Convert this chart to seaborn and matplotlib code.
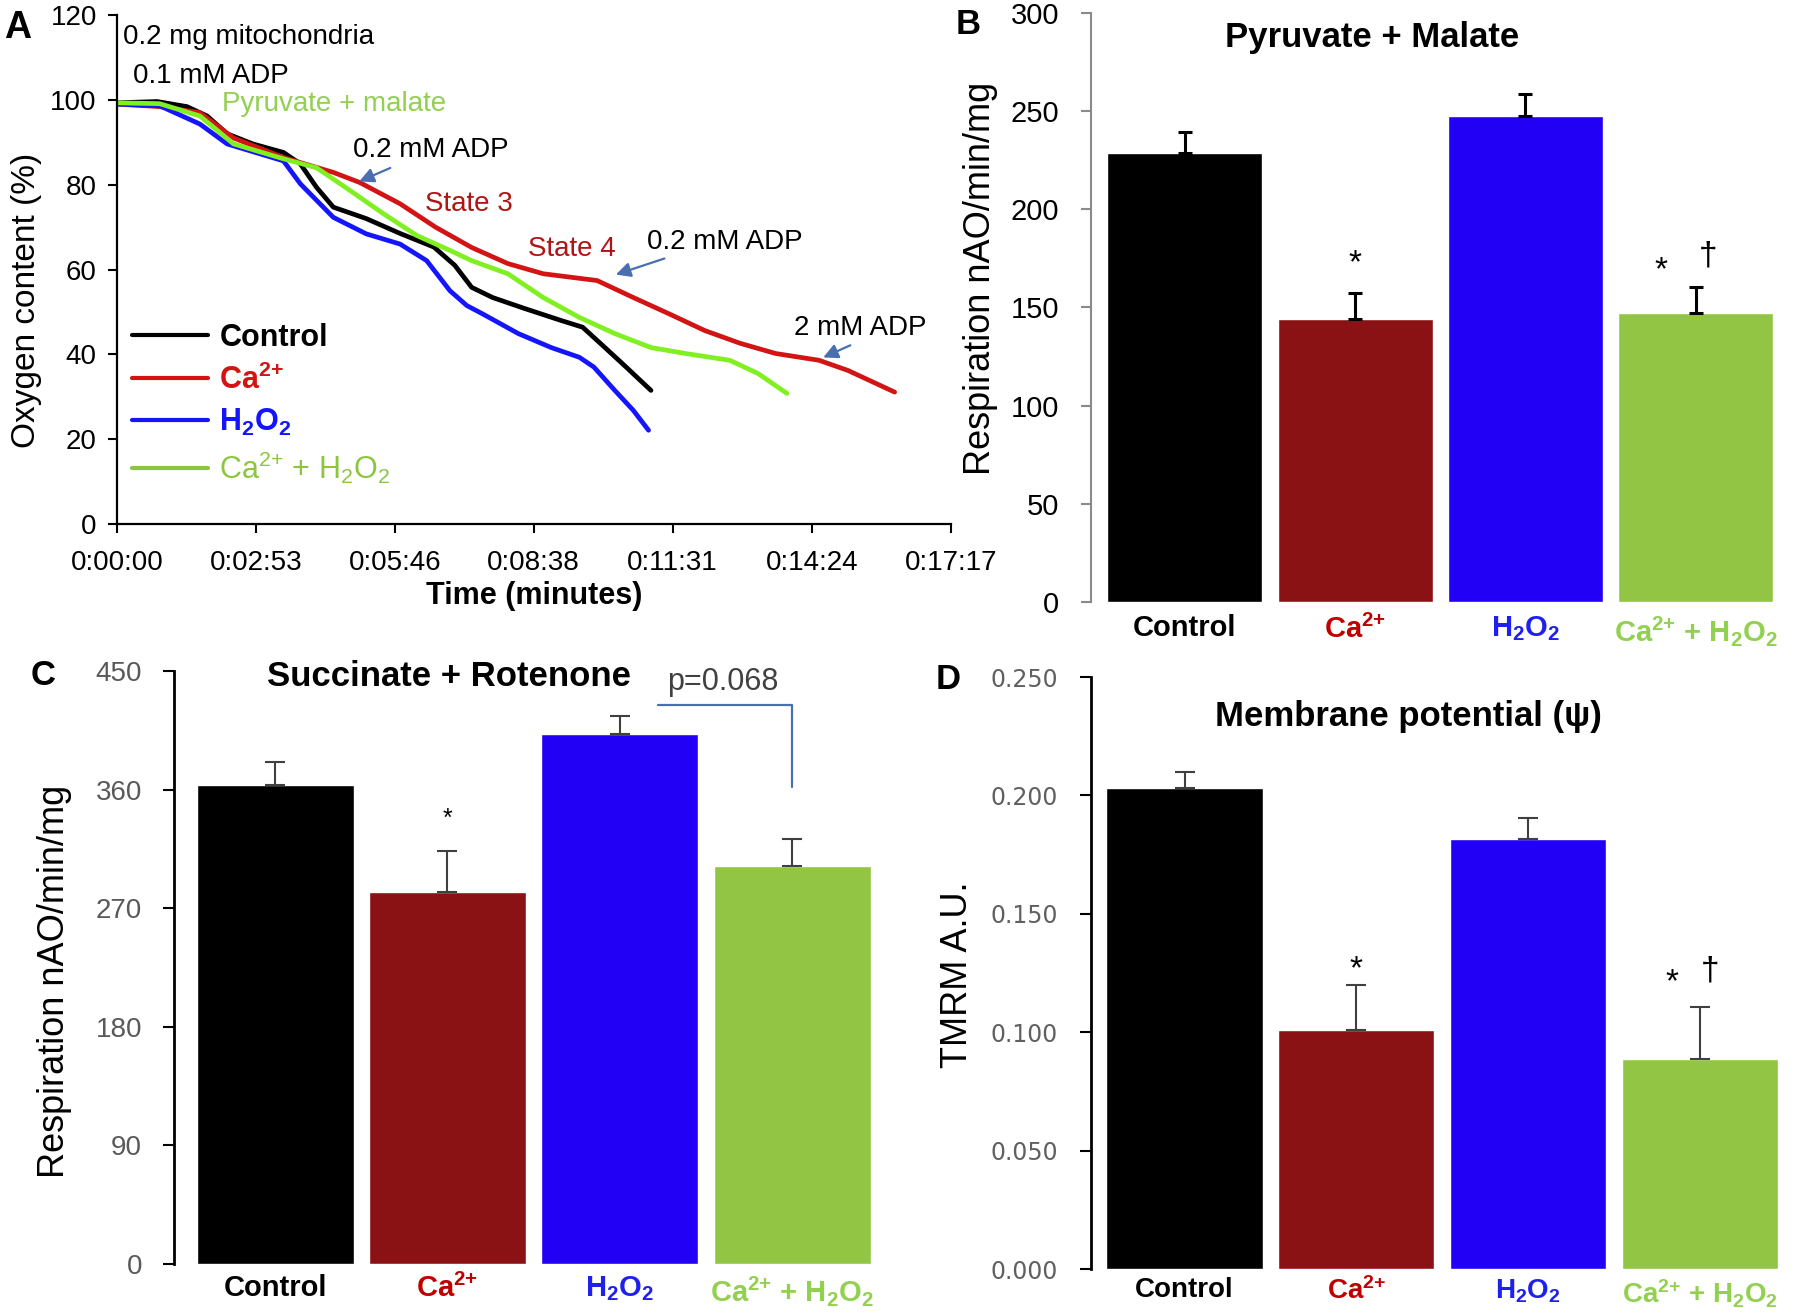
import numpy as np
import pandas as pd
import seaborn as sns
import matplotlib.pyplot as plt
from matplotlib.lines import Line2D

# ---- panel A: oxygen traces (time in seconds, oxygen content in %) ----
ctrl_t = [0, 50, 87, 112, 137, 169, 207, 228, 248, 269, 310, 352, 394, 420, 441, 467, 507, 552, 579, 601, 628, 664]
ctrl_o2 = [99.3, 99.6, 98.4, 96.2, 92, 89.6, 87.6, 84.9, 79.4, 74.7, 72, 68.5, 65.3, 61, 55.8, 53.4, 50.8, 48, 46.4, 42.6, 37.9, 31.5]
ca_t = [0, 53, 103, 145, 207, 269, 302, 352, 396, 441, 486, 530, 597, 642, 686, 731, 775, 819, 873, 909, 967]
ca_o2 = [99, 98.4, 97, 91, 86.4, 82.9, 80.5, 75.5, 70, 65.2, 61.4, 59, 57.4, 53.4, 49.6, 45.6, 42.6, 40.2, 38.6, 36.2, 31.1]
h2o2_t = [0, 53, 103, 137, 207, 228, 269, 310, 352, 385, 414, 435, 454, 499, 540, 575, 593, 619, 642, 661]
h2o2_o2 = [99, 98.6, 94.3, 89.6, 85.6, 80.2, 72.3, 68.4, 66, 62.1, 55, 51.5, 49.6, 44.9, 41.6, 39.3, 37, 31.5, 26.8, 22.1]
cah_t = [0, 53, 103, 145, 207, 248, 290, 331, 373, 414, 441, 486, 530, 575, 619, 664, 707, 762, 797, 833]
cah_o2 = [99.3, 99.1, 96.2, 89.6, 86.1, 84, 78.6, 73.2, 68, 64.5, 62.1, 59, 53.4, 48.7, 44.9, 41.6, 40.2, 38.6, 35.5, 30.8]

time_ticks = [0, 173, 346, 518, 691, 864, 1037]
time_labels = ["0:00:00", "0:02:53", "0:05:46", "0:08:38", "0:11:31", "0:14:24", "0:17:17"]
oxy_ticks = [0, 20, 40, 60, 80, 100, 120]

groups = ["Control", "Ca", "H2O2", "CaH2O2"]
group_labels = ["Control", "Ca$^{2{+}}$", "H$_2$O$_2$", "Ca$^{2{+}}$ + H$_2$O$_2$"]

# ---- panels B-D: bar values (mean, upper error) ----
pm_mean = [228.7, 144.0, 247.3, 147.0]
pm_err = [10.5, 13.5, 11.6, 13.5]
sr_mean = [363.7, 282.0, 402.3, 302.3]
sr_err = [17.3, 31.4, 13.7, 19.9]
tmrm_mean = [0.2030, 0.1011, 0.1816, 0.0887]
tmrm_err = [0.0071, 0.0187, 0.0088, 0.0221]

pm_ticks = [0, 50, 100, 150, 200, 250, 300]
sr_ticks = [0, 90, 180, 270, 360, 450]
tmrm_ticks = [0, 0.05, 0.10, 0.15, 0.20, 0.25]

line_colors = ["#000000", "#d21414", "#1414ff", "#80f020"]
legend_colors = ["#000000", "#d21414", "#1414ff", "#8cc63f"]
bar_colors = ["#000000", "#8b1214", "#2200f5", "#92c544"]
label_colors = ["#000000", "#c00000", "#1f1fee", "#92d050"]
green_txt = "#92d050"
state_red = "#b01515"
arrow_blue = "#4a6fb0"

sns.set_style("ticks", rc={"axes.edgecolor": "black", "xtick.color": "black",
                           "ytick.color": "black", "text.color": "black",
                           "axes.labelcolor": "black"})
plt.rcParams["font.family"] = ["Liberation Sans", "DejaVu Sans"]
plt.rcParams["mathtext.default"] = "regular"

fig = plt.figure(figsize=(18, 13.16), dpi=100)
axA = fig.add_axes([0.0650, 0.6018, 0.4633, 0.3868])
axB = fig.add_axes([0.6061, 0.5426, 0.3889, 0.4476])
axC = fig.add_axes([0.0967, 0.0395, 0.3961, 0.4506])
axD = fig.add_axes([0.6061, 0.0357, 0.3917, 0.4498])

# ---------- A ----------
traces = pd.concat([
    pd.DataFrame({"t": t, "o2": v, "group": g})
    for g, t, v in zip(groups, [ctrl_t, ca_t, h2o2_t, cah_t], [ctrl_o2, ca_o2, h2o2_o2, cah_o2])
])
sns.lineplot(data=traces, x="t", y="o2", hue="group", hue_order=groups,
             palette=dict(zip(groups, line_colors)), linewidth=3.4,
             estimator=None, sort=False, legend=False, ax=axA)
axA.set_xlim(0, 1037)
axA.set_ylim(0, 120)
axA.set_xticks(time_ticks)
axA.set_xticklabels(time_labels)
axA.set_yticks(oxy_ticks)
axA.tick_params(axis="both", labelsize=20, length=6.5, width=1.5)
axA.tick_params(axis="x", pad=12)
axA.tick_params(axis="y", pad=8)
for s in ["top", "right"]:
    axA.spines[s].set_visible(False)
for s in ["left", "bottom"]:
    axA.spines[s].set_linewidth(1.6)
axA.set_xlabel("Time (minutes)", fontsize=22, fontweight="bold", labelpad=4)
axA.set_ylabel("Oxygen content (%)", fontsize=24)
axA.yaxis.set_label_coords(-0.09, 0.44)

handles = [Line2D([], [], color=c, lw=3) for c in legend_colors]
leg = axA.legend(handles, group_labels, loc="center left", bbox_to_anchor=(0.018, 0.235),
                 frameon=False, fontsize=22, handlelength=2.5, handletextpad=0.36,
                 labelspacing=0.38, borderpad=0, borderaxespad=0)
for txt, c, w in zip(leg.get_texts(), legend_colors, ["bold", "bold", "bold", "normal"]):
    txt.set_color(c)
    txt.set_fontweight(w)

notes = [("0.2 mg mitochondria", 7.5, 113.2, "black"),
         ("0.1 mM ADP", 20, 104, "black"),
         ("Pyruvate + malate", 130, 97.4, green_txt),
         ("0.2 mM ADP", 293, 86.6, "black"),
         ("State 3", 383, 73.9, state_red),
         ("State 4", 511, 63.3, state_red),
         ("0.2 mM ADP", 659, 64.9, "black"),
         ("2 mM ADP", 842, 44.5, "black")]
for txt, x, y, c in notes:
    axA.text(x, y, txt, fontsize=20, color=c, ha="left", va="baseline")
for (x0, y0), (x1, y1) in [((343, 84.2), (298, 80.5)), ((684, 62.8), (617, 58.6)), ((915, 42.4), (875, 39))]:
    axA.annotate("", xy=(x1, y1), xytext=(x0, y0),
                 arrowprops=dict(arrowstyle="-|>", color=arrow_blue, lw=1.6, mutation_scale=22))


# ---------- bar panels ----------
def bar_panel(ax, means, errs, ticks, ecolor, elw, cap, xlim):
    df = pd.DataFrame({"group": groups, "value": means})
    sns.barplot(data=df, x="group", y="value", hue="group", hue_order=groups,
                palette=dict(zip(groups, bar_colors)), width=0.91, saturation=1,
                errorbar=None, legend=False, ax=ax)
    ax.errorbar(np.arange(len(means)), means, yerr=[np.zeros(len(means)), errs],
                fmt="none", ecolor=ecolor, elinewidth=elw, capsize=cap, capthick=elw, zorder=5)
    ax.set_xlim(*xlim)
    ax.set_ylim(ticks[0], ticks[-1])
    ax.set_yticks(ticks)
    ax.set_xticks(range(len(groups)))
    ax.set_xticklabels(group_labels, fontsize=21, fontweight="bold")
    for lbl, c in zip(ax.get_xticklabels(), label_colors):
        lbl.set_color(c)
    ax.set_xlabel("")
    for s in ["top", "right", "bottom"]:
        ax.spines[s].set_visible(False)
    ax.tick_params(axis="x", length=0)


# B
bar_panel(axB, pm_mean, pm_err, pm_ticks, "black", 2.2, 5, (-0.552, 3.56))
axB.spines["left"].set_color("#8a8a8a")
axB.spines["left"].set_linewidth(1.5)
axB.tick_params(axis="y", color="#8a8a8a", length=7, width=1.5, pad=16)
axB.tick_params(axis="x", pad=9)
for lbl in axB.get_yticklabels():
    lbl.set_fontsize(21)
axB.set_ylabel("Respiration nAO/min/mg", fontsize=26)
axB.yaxis.set_label_coords(-0.133, 0.55)
axB.text(0.401, 0.958, "Pyruvate + Malate", transform=axB.transAxes, ha="center",
         va="center", fontsize=25, fontweight="bold")
axB.text(1, 172, "*", ha="center", va="center", fontsize=24)
axB.text(2.795, 168.6, "*", ha="center", va="center", fontsize=24)
axB.text(3.07, 176, "\u2020", ha="center", va="center", fontsize=24)

# C
bar_panel(axC, sr_mean, sr_err, sr_ticks, "#404040", 1.5, 7, (-0.586, 3.55))
axC.spines["left"].set_linewidth(2)
axC.tick_params(axis="y", length=8, width=1.5, pad=15, labelcolor="#595959")
axC.tick_params(axis="x", pad=7)
for lbl in axC.get_yticklabels():
    lbl.set_fontsize(20)
axC.set_ylabel("Respiration nAO/min/mg", fontsize=26)
axC.yaxis.set_label_coords(-0.143, 0.477)
axC.text(0.386, 0.99, "Succinate + Rotenone", transform=axC.transAxes, ha="center",
         va="center", fontsize=25, fontweight="bold")
axC.text(1, 338, "*", ha="center", va="center", fontsize=18)
axC.plot([2.22, 3.0, 3.0], [424, 424, 362], color=arrow_blue, lw=1.6)
axC.text(2.6, 442, "p=0.068", ha="center", va="center", fontsize=22, color="#404040")

# D
bar_panel(axD, tmrm_mean, tmrm_err, tmrm_ticks, "#404040", 1.5, 7, (-0.545, 3.56))
axD.spines["left"].set_linewidth(2)
axD.tick_params(axis="y", length=8, width=1.5, pad=16, labelcolor="#606060")
axD.tick_params(axis="x", pad=6)
axD.set_yticklabels([f"{v:.3f}" for v in tmrm_ticks])
for lbl in axD.get_yticklabels():
    lbl.set_family("DejaVu Sans")
    lbl.set_fontsize(17)
for lbl in axD.get_xticklabels():
    lbl.set_fontsize(20)
axD.set_ylabel("TMRM A.U.", fontsize=26)
axD.yaxis.set_label_coords(-0.165, 0.497)
axD.text(0.45, 0.934, "Membrane potential (\u03c8)", transform=axD.transAxes, ha="center",
         va="center", fontsize=25, fontweight="bold")
axD.text(1, 0.1265, "*", ha="center", va="center", fontsize=24)
axD.text(2.84, 0.121, "*", ha="center", va="center", fontsize=24)
axD.text(3.06, 0.1257, "\u2020", ha="center", va="center", fontsize=24)

# panel letters
fig.text(0.002, 0.971, "A", fontsize=27, fontweight="bold", va="baseline")
fig.text(0.531, 0.974, "B", fontsize=25, fontweight="bold", va="baseline")
fig.text(0.017, 0.487, "C", fontsize=25, fontweight="bold", va="center")
fig.text(0.520, 0.484, "D", fontsize=25, fontweight="bold", va="center")

fig.savefig("out.png", dpi=100)
